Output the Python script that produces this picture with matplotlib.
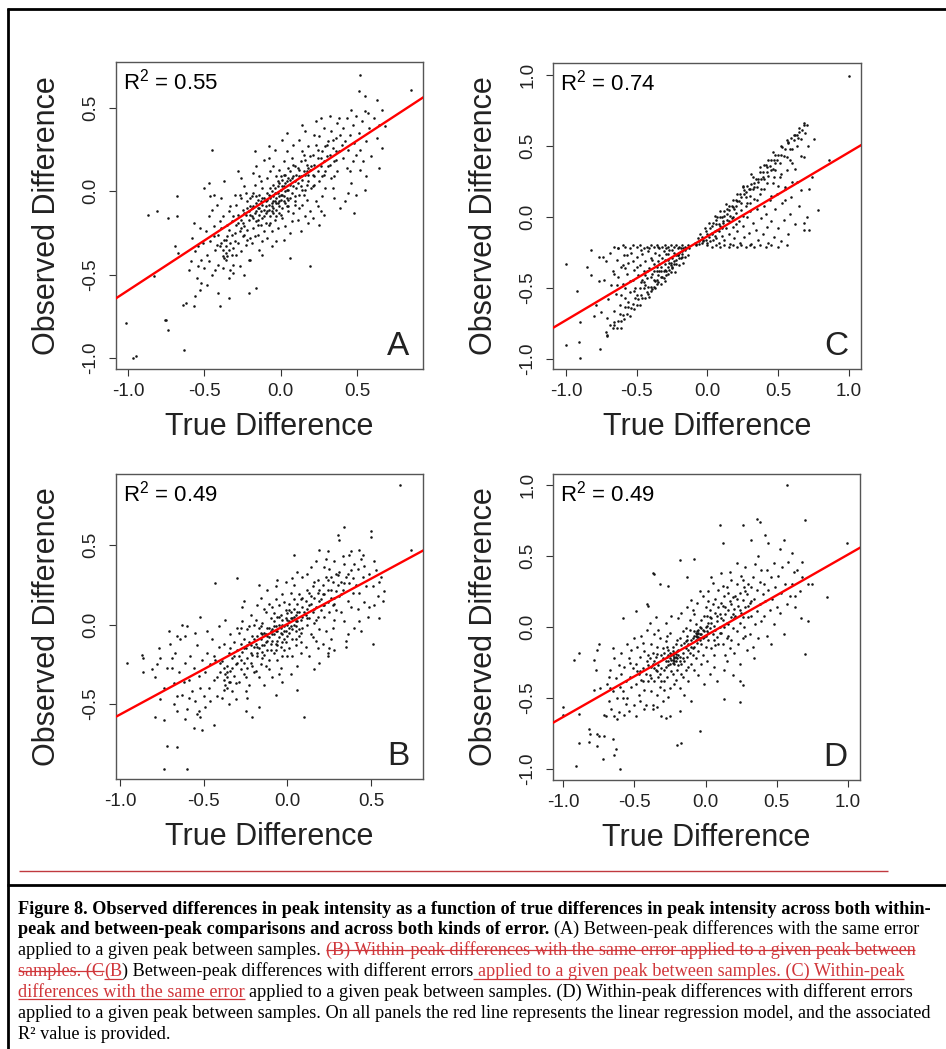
import numpy as np
import matplotlib
matplotlib.use("Agg")
import matplotlib.pyplot as plt
from matplotlib.lines import Line2D
from matplotlib.font_manager import FontProperties

plt.rcParams['font.family'] = ['Liberation Sans', 'DejaVu Sans']
plt.rcParams['mathtext.fontset'] = 'custom'
plt.rcParams['mathtext.rm'] = 'Liberation Sans'
plt.rcParams['mathtext.it'] = 'Liberation Sans:italic'
plt.rcParams['mathtext.bf'] = 'Liberation Sans:bold'

# ---------------- data (point coordinates in hundredths of a unit) ----------------
A_POINTS = [
    (52,70),(85,61),(51,60),(55,57),(63,55),(66,49),(57,47),(46,49),(64,40),(64,14),(55,1),(49,-2),(44,-1),(48,-13),
    (56,9),(52,13),(19,-45),(6,-40),(-45,25),(-68,-3),(-87,-14),(-81,-12),(-74,-16),(-68,-15),(-83,-51),(-69,-33),
    (-67,-37),(-101,-79),(-97,-100),(-95,-99),(-76,-77),(-75,-77),(-74,-83),(-63,-95),(-64,-68),(-62,-67),(-57,-69),
    (-40,-69),(-34,-64),(-21,-61),(-16,-58),(-56,-63),(-53,-59),(-60,-47),(-54,-45),(-41,-61),(-31,-49),(-20,-41),(-12,-38),
    (-58,-28),(-56,-36),(-55,-52),(-53,-22),(-52,-41),(-51,-31),(-59,-42),(-57,-19),(-54,-33),(-50,-46),(-52,-55),
    (-49,-24),(-48,-38),(-47,-15),(-46,-30),(-45,-50),(-44,-21),(-43,-35),(-42,-8),(-41,-44),(-48,-56),(-46,-3),
    (-44,-27),(-42,-32),(-40,-18),(-47,-42),(-45,-11),(-43,-47),(-41,-26),(-50,2),(-47,5),(-44,-2),
    (-39,-22),(-38,-35),(-37,-40),(-37,-29),(-36,-37),(-36,-33),(-36,-41),(-35,-27),(-35,-39),(-34,-12),(-33,-31),
    (-32,-18),(-31,-44),(-30,-25),(-39,-4),(-38,-15),(-34,-52),(-33,-9),(-31,-34),(-30,-2),(-38,-46),(-35,-20),
    (-32,-38),(-37,6),(-34,-23),(-31,-15),(-39,-31),(-33,-47),
    (-29,-20),(-29,-8),(-28,-31),(-28,-14),(-27,-24),(-27,-2),(-26,-17),(-26,-36),(-25,-11),(-25,-27),(-24,-21),
    (-24,3),(-23,-14),(-23,-32),(-22,-6),(-22,-23),(-21,-17),(-21,-41),(-20,-9),(-20,-28),(-29,-38),(-27,-45),
    (-26,8),(-25,-19),(-24,-13),(-23,-1),(-22,-29),(-21,-12),(-28,12),(-20,-4),(-24,-50),(-26,-4),
    (-19,-15),(-19,-3),(-18,-22),(-18,-9),(-17,-13),(-17,4),(-16,-18),(-16,-7),(-15,-26),(-15,-10),(-14,-2),
    (-14,-14),(-13,-20),(-13,6),(-12,-8),(-12,-16),(-11,-4),(-11,-11),(-19,-31),(-18,11),(-17,-27),(-16,15),
    (-15,-5),(-14,-35),(-13,-12),(-12,2),(-11,-24),(-10,-13),(-18,-1),(-16,-12),(-14,9),(-13,-6),(-12,-30),
    (-11,19),(-17,24),(-15,-17),(-10,-6),(-19,-10),
    (-9,-5),(-9,-12),(-8,-2),(-8,-8),(-7,-4),(-7,-15),(-6,0),(-6,-7),(-5,-3),(-5,-10),(-4,-6),(-4,2),(-3,-4),
    (-3,-11),(-2,-1),(-2,-7),(-1,-3),(-1,5),(0,-5),(0,1),(-9,8),(-8,-20),(-7,12),(-6,-24),(-5,15),(-4,-17),(-3,9),
    (-2,-22),(-1,13),(0,-14),(-9,-28),(-8,20),(-6,-33),(-5,4),(-4,25),(-3,-1),(-2,6),(-1,-9),(-7,2),(-3,-30),
    (-6,-12),(-8,27),(-10,-19),(-5,-6),
    (1,-2),(1,7),(2,-6),(2,3),(3,0),(3,10),(4,-4),(4,6),(5,1),(5,-9),(6,4),(6,12),(7,-1),(7,8),(8,3),(8,-13),
    (9,6),(9,15),(1,-16),(2,18),(3,-21),(4,24),(5,-12),(6,-25),(7,20),(8,28),(9,-8),(1,31),(3,-7),(5,14),(7,-18),
    (9,-3),(2,-29),(4,35),(6,-4),(8,16),(10,10),(0,9),
    (11,5),(11,14),(12,-2),(12,9),(13,3),(13,18),(14,7),(14,-8),(15,12),(15,22),(16,1),(16,10),(17,16),(17,-5),
    (18,6),(18,27),(19,13),(19,-12),(11,-17),(12,31),(13,-24),(14,24),(15,-2),(16,36),(17,4),(18,-19),(19,21),
    (12,-10),(14,40),(16,-15),(18,14),(20,2),
    (21,10),(21,22),(22,4),(22,16),(23,28),(23,-6),(24,12),(24,20),(25,6),(25,33),(26,15),(26,-12),(27,24),(27,9),
    (28,18),(28,38),(29,2),(29,27),(21,-16),(23,42),(25,-20),(27,-3),(29,12),(22,34),(24,-9),(26,44),(28,-14),(30,21),
    (31,15),(31,30),(32,22),(33,8),(33,36),(34,26),(35,18),(35,-4),(36,32),(37,12),(37,41),(38,24),(39,-10),(39,34),
    (32,45),(34,2),(36,19),(38,44),(40,28),(35,9),
    (41,20),(41,38),(42,30),(43,14),(43,44),(44,25),(45,34),(46,5),(47,40),(47,18),(48,29),(49,45),(42,-6),(45,12),(49,22),
    (51,35),(52,25),(53,42),(54,18),(55,48),(56,30),(58,38),(59,21),
    (61,44),(63,32),(66,26),(68,39),
    (-7,-3),(-6,-9),(-4,-1),(-3,-7),(-2,3),(-1,-6),(0,-2),(1,3),(2,-3),(3,5),(4,1),(5,-5),(-8,-11),(-9,-1),(-10,-9),
    (-5,-13),(-1,-13),(2,10),(4,-9),(6,7),(-12,-4),(-14,-10),(-16,-3),(-18,-16),(-20,-14),(-22,-10),(-24,-26),
    (-26,-22),(-28,-19),(-30,-30),(-32,-26),(-34,-35),(-36,-29),(-38,-39),(-40,-33),(8,9),(10,2),(12,13),(14,1),
    (16,19),(18,10),(20,15),(22,9),(24,25),(26,20),(28,10),(30,28),(32,16),(34,31),(36,24),(-15,-20),(-11,-15),
    (-7,-19),(-3,-15),(1,-10),(5,8),(9,-6),(13,9),(17,12),(21,3),
]

B_POINTS = [
    (67,88),(74,47),(50,59),(50,55),(34,61),(30,56),(31,53),(19,47),(24,46),(38,46),(43,47),(4,44),(57,15),(55,27),
    (55,4),(51,-12),(52,12),(49,11),(43,2),(35,-14),(28,-16),(24,-20),(19,-24),(10,-58),(6,-41),(-7,-44),(-17,-52),
    (-21,-58),(-25,-54),(-43,26),(-30,29),(-52,5),(-63,0),(-60,-1),(-71,-4),(-96,-24),(-87,-19),(-86,-21),(-86,-30),
    (-81,-28),(-78,-25),(-76,-21),(-70,-12),(-66,-7),(-61,-7),(-69,-21),(-68,-37),(-76,-47),(-79,-58),(-74,-60),
    (-72,-76),(-66,-77),(-74,-91),(-60,-91),(-66,-54),(-61,-59),(-60,-53),(-56,-65),(-51,-66),(-54,-56),(-52,-58),
    (-53,-54),(-49,-52),(-44,-63),(-59,-46),(-63,-44),
    (-79,-33),(-77,-15),(-74,-40),(-72,-27),
    (-69,-27),(-67,-18),(-66,-45),(-65,-30),(-64,-9),(-62,-36),(-61,-24),(-68,-50),
    (-59,-35),(-58,-20),(-57,-42),(-56,-27),(-55,-48),(-54,-13),(-53,-32),(-52,-40),(-51,-22),(-50,-45),(-55,-5),
    (-49,-30),(-48,-18),(-47,-40),(-46,-25),(-45,-9),(-44,-35),(-43,-22),(-42,-45),(-41,-14),(-40,-30),(-48,-4),
    (-46,-48),(-44,-20),(-42,-33),(-41,-1),
    (-39,-23),(-38,-35),(-38,-12),(-37,-31),(-37,-38),(-36,-33),(-36,-40),(-36,-26),(-35,-36),(-35,-18),(-34,-29),
    (-34,-6),(-33,-42),(-33,-21),(-32,-32),(-32,-11),(-31,-25),(-31,-47),(-30,-16),(-30,-2),(-39,-46),(-37,3),
    (-35,-50),(-33,-27),(-31,-37),(-38,-27),(-34,-15),
    (-29,-20),(-29,-5),(-28,-28),(-28,-12),(-27,-17),(-27,2),(-26,-24),(-26,-9),(-25,-33),(-25,-15),(-24,-3),
    (-24,-21),(-23,-11),(-23,-38),(-22,-18),(-22,6),(-21,-26),(-21,-7),(-20,-14),(-20,-30),(-29,-36),(-27,11),
    (-25,-42),(-23,-1),(-21,-19),(-28,-2),(-26,-31),(-24,-13),(-22,-24),(-20,0),(-26,15),(-24,-46),
    (-19,-12),(-19,3),(-18,-20),(-18,-7),(-17,-2),(-17,-15),(-16,-25),(-16,-9),(-15,1),(-15,-13),(-14,-19),(-14,-5),
    (-13,8),(-13,-11),(-12,-16),(-12,-2),(-11,-8),(-11,-22),(-10,4),(-10,-12),(-19,-29),(-18,12),(-17,-33),(-16,17),
    (-15,-21),(-14,-38),(-13,-6),(-12,22),(-11,-28),(-10,-4),(-18,-14),(-16,-1),(-14,10),(-12,-10),(-17,25),(-13,-26),
    (-15,-6),(-11,13),
    (-9,-3),(-9,-10),(-8,-6),(-8,2),(-7,-1),(-7,-12),(-6,-4),(-6,5),(-5,-8),(-5,0),(-4,-2),(-4,-14),(-3,3),(-3,-6),
    (-2,-1),(-2,-9),(-1,4),(-1,-4),(0,0),(0,-7),(-9,11),(-8,-18),(-7,16),(-6,-22),(-5,12),(-4,-27),(-3,19),(-2,-16),
    (-1,9),(0,-20),(-9,-33),(-7,24),(-5,-31),(-3,-11),(-1,27),(-8,7),(-6,-13),(-4,6),(-2,14),(0,7),(-6,28),(-3,-36),
    (1,2),(1,-5),(2,8),(2,-1),(3,4),(3,-9),(4,10),(4,0),(5,6),(5,-4),(6,13),(6,2),(7,-7),(7,8),(8,16),(8,3),(9,-2),
    (9,11),(1,-15),(2,20),(3,-20),(4,25),(5,-13),(6,-26),(7,19),(8,-11),(9,30),(2,-31),(4,16),(6,33),(8,-18),(1,13),
    (3,29),(5,-1),(7,-3),(9,5),
    (11,6),(11,15),(12,0),(12,10),(13,20),(13,4),(14,-6),(14,13),(15,24),(15,8),(16,1),(16,17),(17,11),(17,-10),
    (18,28),(18,5),(19,15),(19,-3),(11,-14),(12,32),(13,-20),(14,36),(15,-8),(16,27),(17,40),(18,-15),(19,22),(20,9),
    (12,22),(16,-28),
    (21,12),(21,25),(22,5),(22,19),(23,30),(23,-4),(24,14),(24,22),(25,35),(25,8),(26,17),(26,-9),(27,27),(27,12),
    (28,40),(28,3),(29,21),(29,32),(21,-12),(23,41),(25,-15),(27,-2),(29,9),(22,36),(24,-18),(26,30),(28,17),(30,25),
    (31,18),(31,33),(32,8),(32,27),(33,22),(34,38),(34,2),(35,30),(36,15),(36,-6),(37,26),(38,34),(38,11),(39,20),
    (40,-2),(33,43),(35,-10),(37,44),(39,29),(40,38),
    (41,25),(42,35),(42,10),(43,20),(44,41),(44,-4),(45,30),(46,14),(46,37),(47,24),(48,5),(49,32),(45,44),
    (51,24),(53,34),(54,18),(56,30),(58,21),(52,40),
    (-7,-4),(-6,-10),(-4,-5),(-3,0),(-2,-4),(-1,-11),(0,3),(1,-2),(2,4),(3,-3),(4,5),(5,2),(-8,-1),(-9,-6),(-10,-16),
    (-5,5),(6,8),(8,-5),(-12,-7),(-14,-13),(-16,-5),(-18,-18),(-20,-9),(-22,-13),(-24,-27),(-26,-15),(-28,-22),
    (-30,-24),(-32,-20),(-34,-36),(-36,-30),(-38,-41),(-40,-24),(10,8),(12,4),(14,18),(16,10),(18,20),(20,16),
    (22,12),(24,28),(26,22),(28,13),(30,31),(32,19),(34,26),(36,32),(-15,-17),(-11,-2),(-7,-16),(-3,-20),(1,9),
    (5,-9),(9,17),(13,12),(17,3),(21,19),
]

C_POINTS = [
    # flat row at the ceiling of the left wing
    (-66,-21),(-63,-22),(-60,-20),(-58,-21),(-55,-22),(-53,-20),(-50,-21),(-48,-20),(-45,-22),(-43,-21),(-40,-20),
    (-38,-21),(-36,-20),(-34,-22),(-32,-21),(-30,-20),(-28,-21),(-26,-20),(-24,-21),(-22,-20),(-20,-21),(-18,-20),
    (-16,-21),(-14,-20),(-47,-23),(-41,-22),(-35,-21),(-29,-22),(-25,-23),(-21,-22),(-19,-22),(-17,-22),
    # steep band of the left wing
    (-13,-22),(-14,-27),(-15,-22),(-16,-28),(-17,-32),(-18,-26),(-19,-29),(-20,-34),(-21,-27),(-22,-33),(-23,-39),
    (-24,-31),(-25,-35),(-26,-39),(-27,-32),(-28,-40),(-29,-38),(-30,-45),(-31,-38),(-32,-42),(-33,-47),(-34,-38),
    (-35,-46),(-36,-44),(-37,-50),(-38,-44),(-39,-51),(-40,-49),(-41,-56),(-42,-49),(-43,-53),(-44,-57),(-45,-50),
    (-46,-57),(-47,-55),(-48,-62),(-49,-58),(-50,-62),(-51,-57),(-52,-65),(-53,-61),(-54,-64),(-55,-70),(-56,-63),
    (-57,-68),(-58,-63),(-59,-72),(-60,-69),(-61,-73),(-62,-68),(-63,-73),(-64,-78),(-66,-74),(-67,-78),(-69,-76),
    (-71,-83),(-35,-41),(-36,-47),(-37,-45),(-38,-49),(-33,-42),(-31,-43),(-29,-41),(-27,-37),(-25,-36),(-40,-52),
    (-42,-54),(-30,-37),(-28,-35),(-26,-34),(-24,-33),(-22,-30),(-20,-29),(-18,-28),
    # inside the left wedge
    (-16,-23),(-18,-24),(-20,-25),(-22,-27),(-24,-25),(-25,-29),(-27,-23),(-28,-30),(-29,-26),(-30,-33),(-31,-24),
    (-32,-29),(-33,-35),(-34,-27),(-35,-31),(-36,-38),(-37,-25),(-38,-33),(-39,-40),(-40,-29),(-41,-36),(-42,-24),
    (-43,-43),(-44,-31),(-45,-38),(-46,-26),(-47,-46),(-48,-34),(-49,-41),(-50,-28),(-51,-50),(-52,-37),(-53,-44),
    (-54,-25),(-55,-53),(-56,-32),(-57,-40),(-58,-57),(-59,-27),(-60,-47),(-61,-35),(-62,-62),(-63,-42),(-64,-30),
    (-65,-54),(-66,-66),(-67,-38),(-68,-48),(-69,-25),(-70,-58),(-71,-71),(-72,-31),(-73,-44),(-56,-60),(-58,-36),
    (-50,-55),(-44,-48),(-39,-30),(-46,-44),(-53,-31),(-26,-32),(-21,-27),
    (-30,-30),(-33,-38),(-36,-35),(-40,-42),(-43,-38),(-45,-46),(-48,-50),(-52,-52),(-55,-45),(-58,-50),(-61,-55),
    (-64,-48),(-66,-40),(-60,-34),(-57,-27),(-50,-35),(-44,-41),(-38,-38),(-34,-33),(-28,-26),
    # left outliers
    (-100,-33),(-92,-52),(-90,-74),(-91,-88),(-90,-99),(-100,-90),(-82,-23),(-82,-41),(-77,-28),(-74,-28),(-77,-45),
    (-75,-67),(-76,-93),(-72,-81),(-71,-84),(-66,-76),(-61,-78),(-63,-22),(-79,-62),(-85,-35),(-80,-70),
    # steep band of the right wing
    (-9,-18),(-8,-20),(-7,-15),(-6,-17),(-5,-12),(-4,-14),(-3,-16),(-2,-8),(-1,-10),(0,-12),(1,-4),(2,-8),(3,-11),
    (4,-4),(5,1),(6,-5),(7,0),(8,-5),(9,4),(10,0),(11,-3),(12,4),(13,9),(14,2),(15,8),(16,1),(17,8),(18,12),(19,6),
    (20,12),(21,16),(22,11),(23,16),(24,10),(25,21),(26,16),(27,14),(28,22),(29,20),(30,15),(31,23),(32,28),(33,21),
    (34,27),(35,21),(36,27),(37,32),(38,27),(39,32),(40,27),(41,37),(42,32),(43,29),(44,36),(45,40),(46,34),(47,40),
    (48,33),(49,40),(50,44),(51,38),(52,44),(53,49),(54,43),(55,48),(56,42),(57,52),(58,48),(59,56),(60,48),(61,54),
    (62,58),(63,50),(64,56),(65,60),(66,55),(67,61),(68,65),(69,59),(70,65),
    (3,-6),(6,-2),(9,0),(12,1),(15,5),(18,7),(21,11),(24,14),(27,18),(30,20),(33,24),(36,25),(39,28),(42,35),(45,33),
    (48,38),(14,6),(20,8),(26,19),(32,20),
    # inside the right wedge
    (-8,-19),(-6,-19),(-4,-18),(-3,-17),(-1,-16),(0,-18),(1,-14),(2,-17),(3,-12),(4,-16),(5,-10),(6,-15),(7,-9),
    (8,-18),(9,-6),(10,-13),(11,-4),(12,-16),(13,-8),(14,-2),(15,-12),(16,-19),(17,-1),(18,-7),(19,-15),(20,3),
    (21,-10),(22,-3),(23,-18),(24,5),(25,-6),(26,-14),(27,8),(28,0),(29,-11),(30,10),(31,-19),(32,-4),(33,13),(34,-9),
    (35,6),(36,-16),(37,16),(38,-1),(39,-12),(40,20),(41,2),(42,-7),(43,-18),(44,12),(45,-3),(46,24),(47,-14),(48,6),
    (49,16),(50,-8),(51,28),(52,-17),(53,10),(54,-2),(55,20),(56,33),(57,-12),(58,2),(59,14),(60,38),(62,-5),(63,25),
    (65,8),(66,43),(68,-9),
    (5,-13),(10,-8),(15,-3),(20,-5),(25,1),(30,4),(35,12),(40,8),(45,15),(50,22),(55,12),(60,25),(38,20),(28,10),
    (18,0),(8,-10),(42,24),(52,30),(58,40),(47,28),
    # flat row at the floor of the right wing
    (0,-20),(3,-21),(6,-20),(9,-21),(12,-20),(15,-21),(18,-20),(21,-21),(24,-20),(27,-21),(30,-20),(33,-21),(37,-20),
    (41,-21),(45,-20),(50,-21),(56,-20),
    # right outliers and points above the band
    (100,99),(78,5),(72,-9),(70,0),(68,-4),(72,20),(75,55),(86,40),(62,34),(55,21),(68,42),(71,50),(65,63),(61,58),
    (74,28),(66,19),
    (43,40),(48,44),(52,50),(56,54),(63,58),(68,66),(57,53),(40,37),(37,35),(31,30),(25,22),(46,46),
]

D_POINTS = [
    (57,100),(10,72),(26,72),(36,76),(38,74),(42,65),(32,61),(44,59),(70,75),(55,61),(52,55),(99,59),(12,59),(-8,48),
    (-18,47),(-37,38),(-36,37),(-32,30),(-26,29),(-13,35),(-41,16),(-40,15),(-49,11),(-58,6),(85,21),(72,4),(70,-19),
    (63,22),(68,35),(72,30),(75,30),(61,52),(62,39),(68,46),(24,-38),(26,-41),(24,-53),(13,-51),(-4,-73),(-17,-82),
    (-20,-83),(-10,-52),(-18,-59),(-28,-64),(-31,-63),(-25,-63),(-37,-58),(-34,-56),(-89,-18),(-92,-23),(-100,-56),
    (-100,-62),(-89,-61),(-89,-82),(-91,-98),(-82,-72),(-81,-75),(-76,-75),(-75,-77),(-71,-77),(-82,-81),(-76,-84),
    (-72,-93),(-60,-100),(-65,-79),(-64,-90),(-63,-86),(-78,-44),(-74,-43),(-76,-16),(-75,-12),(-77,-30),(-78,-23),
    (-67,-43),(-68,-35),(-71,-62),(-70,-63),(-64,-63),(-62,-65),(-58,-50),(-56,-54),(-54,-59),(-49,-63),(-43,-58),
    (-69,-40),(-68,-52),(-67,-30),(-66,-58),(-65,-45),(-64,-22),(-63,-36),(-62,-50),(-61,-27),(-60,-42),(-65,-15),(-61,-60),
    (-59,-33),(-59,-18),(-58,-45),(-57,-28),(-56,-38),(-55,-12),(-55,-50),(-54,-22),(-53,-35),(-52,-42),(-52,-16),
    (-51,-29),(-50,-55),(-50,-8),(-57,-62),(-53,-25),
    (-49,-26),(-49,-40),(-48,-14),(-47,-33),(-47,-48),(-46,-21),(-45,-37),(-45,-6),(-44,-29),(-43,-44),(-43,-17),
    (-42,-33),(-42,-55),(-41,-24),(-41,-2),(-40,-38),(-48,-31),(-46,-52),(-44,-11),(-40,-20),
    (-39,-22),(-39,-34),(-38,-12),(-38,-45),(-37,-26),(-37,-18),(-36,-38),(-36,-5),(-35,-30),(-35,-21),(-34,-48),
    (-34,-14),(-33,-27),(-33,-35),(-32,-8),(-32,-42),(-31,-20),(-31,-29),(-30,-52),(-30,-15),(-39,3),(-37,-55),
    (-35,7),(-33,-2),(-31,-38),(-36,-24),(-34,-31),(-38,-28),
    (-29,-18),(-29,-30),(-28,-24),(-28,-10),(-27,-21),(-27,-35),(-26,-16),(-26,-27),(-25,-22),(-25,-4),(-24,-20),
    (-24,-31),(-23,-23),(-23,-14),(-22,-21),(-22,-26),(-21,-19),(-21,-37),(-20,-22),(-20,-9),(-24,-23),(-23,-20),
    (-22,-18),(-21,-24),(-25,-43),(-28,3),(-26,-49),(-24,8),(-22,-40),(-20,-30),(-29,-44),(-27,-6),(-23,-33),
    (-21,-12),(-26,-20),(-25,-26),(-23,-17),(-22,-24),
    (-19,-16),(-19,-27),(-18,-8),(-18,-21),(-17,-13),(-17,-33),(-16,-18),(-16,-3),(-15,-24),(-15,-11),(-14,-30),
    (-14,-15),(-13,-6),(-13,-21),(-12,-12),(-12,-38),(-11,-2),(-11,-18),(-10,-9),(-10,-26),(-19,6),(-18,-43),
    (-17,10),(-15,-48),(-13,14),(-12,-28),(-11,5),(-16,-35),(-14,-1),(-10,19),
    (-9,-8),(-9,-20),(-8,-3),(-8,-14),(-7,-6),(-7,2),(-6,-5),(-6,-11),(-5,-4),(-5,-17),(-4,0),(-4,-8),(-3,-12),
    (-3,5),(-2,-2),(-2,-20),(-1,-7),(-1,8),(0,-14),(0,0),(-6,-3),(-5,-7),(-7,-9),(-4,-5),(-9,12),(-8,-30),(-6,17),
    (-5,-34),(-3,-26),(-2,22),(-1,-40),(0,14),(-7,-22),(-4,25),(-8,9),(-3,-1),
    (1,-3),(1,8),(2,-9),(2,3),(3,12),(3,-1),(4,-15),(4,6),(5,16),(5,-5),(6,1),(6,-20),(7,10),(7,20),(8,-7),(8,4),
    (9,14),(9,-12),(10,0),(1,-24),(2,25),(3,-33),(5,31),(6,-28),(8,-38),(9,26),(4,35),(7,-2),(10,9),(2,18),
    (11,6),(11,-4),(12,15),(12,-12),(13,0),(13,22),(14,9),(14,-20),(15,3),(15,28),(16,-6),(16,12),(17,18),(17,-15),
    (18,7),(18,33),(19,-1),(19,21),(20,13),(11,38),(13,-30),(15,-24),(17,39),(19,-34),(12,29),(16,24),(18,-9),(20,-18),
    (21,8),(21,22),(22,-3),(22,30),(23,15),(23,-12),(24,24),(24,3),(25,36),(25,10),(26,-8),(26,19),(27,28),(27,0),
    (28,14),(28,42),(29,-16),(29,23),(30,7),(22,45),(24,-26),(26,33),(28,-6),(30,30),
    (31,17),(31,-5),(32,28),(32,8),(33,35),(33,-14),(34,20),(35,2),(35,44),(36,26),(36,11),(37,-8),(38,32),(38,16),
    (39,4),(39,40),(40,23),(34,-22),(37,50),
    (41,30),(41,8),(42,18),(43,40),(43,-6),(44,26),(45,12),(46,35),(46,-12),(47,20),(48,45),(48,2),(49,28),(50,14),
    (51,36),(52,10),(53,24),(54,42),(55,-5),(56,30),(57,16),(58,46),(59,22),
    (61,30),(63,14),(64,40),(66,25),(67,6),
    (-24,-19),(-23,-25),(-22,-22),(-21,-21),(-20,-17),(-25,-18),(-26,-24),(-19,-20),(-18,-24),(-7,-4),(-6,-7),(-5,-2),
    (-4,-9),(-3,-5),(-2,-8),(-8,-6),(-1,-3),(0,-6),(1,1),(-12,-16),(-14,-10),(-16,-22),(-10,-14),(-28,-28),(-30,-22),
    (-32,-33),(-34,-19),(-36,-29),(-38,-36),(-40,-27),(-44,-38),(-46,-31),(2,-4),(4,3),(6,-9),(8,8),(10,-4),(12,5),
    (14,14),(16,2),(18,16),(20,6),(22,20),(24,12),(26,7),(28,25),(30,15),(32,18),(-29,-38),(-27,-14),(-17,-26),
    (-13,-9),(-9,-15),(3,7),(7,-13),(11,17),(15,-8),(19,9),
]

PANEL_LETTERS = ["A", "C", "B", "D"]
PANEL_POINTS = [A_POINTS, C_POINTS, B_POINTS, D_POINTS]
R2_VALUES = ["0.55", "0.74", "0.49", "0.49"]
REG_SLOPE = [0.600, 0.591, 0.569, 0.572]
REG_INTERCEPT = [0.005, -0.135, 0.004, -0.062]
X_TICKS = [[-1.0, -0.5, 0.0, 0.5], [-1.0, -0.5, 0.0, 0.5, 1.0],
           [-1.0, -0.5, 0.0, 0.5], [-1.0, -0.5, 0.0, 0.5, 1.0]]
Y_TICKS = [[-1.0, -0.5, 0.0, 0.5], [-1.0, -0.5, 0.0, 0.5, 1.0],
           [-0.5, 0.0, 0.5], [-1.0, -0.5, 0.0, 0.5, 1.0]]
X_LIMS = [(-1.078, 0.930), (-1.092, 1.085), (-1.024, 0.810), (-1.070, 1.084)]
Y_LIMS = [(-1.066, 0.776), (-1.070, 1.085), (-0.970, 0.946), (-1.077, 1.077)]
X_LABEL = "True Difference"
Y_LABEL = "Observed Difference"

CAPTION_LINES = [
    [("Figure 8. Observed differences in peak intensity as a function of true differences in peak intensity across both within-", "bold")],
    [("peak and between-peak comparisons and across both kinds of error.", "bold"),
     (" (A) Between-peak differences with the same error", "normal")],
    [("applied to a given peak between samples. ", "normal"),
     ("(B) Within-peak differences with the same error applied to a given peak between", "strike")],
    [("samples. (C", "strike"), ("(B", "under"),
     (") Between-peak differences with different errors", "normal"),
     (" applied to a given peak between samples. (C) Within-peak", "under")],
    [("differences with the same error", "under"),
     (" applied to a given peak between samples. (D) Within-peak differences with different errors", "normal")],
    [("applied to a given peak between samples. On all panels the red line represents the linear regression model, and the associated", "normal")],
    [("R\u00b2 value is provided.", "normal")],
]

# ---------------- layout ----------------
W, H = 946, 1049
fig = plt.figure(figsize=(W / 100, H / 100), dpi=100)

def px_rect(left, top, right, bottom):
    return [left / W, 1 - bottom / H, (right - left) / W, (bottom - top) / H]

AX_BOXES = [(116, 62, 423, 369), (553, 63, 861, 369), (116, 474, 423, 779), (553, 474, 860, 780)]
TEXT_COLOR = "#222222"

for i in range(4):
    l, t, r, b = AX_BOXES[i]
    ax = fig.add_axes(px_rect(l, t, r, b))
    pts = np.array(PANEL_POINTS[i], dtype=float) / 100.0
    ax.scatter(pts[:, 0], pts[:, 1], s=3.4, c="#151515", linewidths=0, zorder=2)
    ax.axline((0.0, REG_INTERCEPT[i]), slope=REG_SLOPE[i], color="#ff0000", lw=1.7, zorder=3)
    ax.set_xlim(*X_LIMS[i])
    ax.set_ylim(*Y_LIMS[i])
    ax.set_xticks(X_TICKS[i])
    ax.set_yticks(Y_TICKS[i])
    ax.set_xticklabels(["%.1f" % v for v in X_TICKS[i]])
    ax.set_yticklabels(["%.1f" % v for v in Y_TICKS[i]])
    ax.tick_params(axis="both", direction="out", length=5, width=0.8, color="#333333",
                   labelsize=13.5, labelcolor=TEXT_COLOR)
    ax.tick_params(axis="x", pad=5)
    ax.tick_params(axis="y", pad=7)
    for lab in ax.get_yticklabels():
        lab.set_rotation(90)
        lab.set_va("center")
    for sp in ax.spines.values():
        sp.set_color("#555555")
        sp.set_linewidth(1.0)
    ax.text(0.022, 0.911, r"R$^{2}$ = " + R2_VALUES[i], transform=ax.transAxes,
            fontsize=16, color="black", ha="left", va="baseline")
    ax.text(0.92, 0.047, PANEL_LETTERS[i], transform=ax.transAxes,
            fontsize=24, color=TEXT_COLOR, ha="center", va="baseline")
    cx = (l + r) / 2
    fig.text(cx / W, 1 - (b + 58) / H, X_LABEL, fontsize=22, color=TEXT_COLOR, ha="center", va="center")
    fig.text((l - 69) / W, 1 - ((t + b) / 2) / H, Y_LABEL, fontsize=22, color=TEXT_COLOR,
             rotation=90, ha="center", va="center")

# ---------------- frame lines ----------------
def hline(y, x0, x1, lw, color):
    fig.add_artist(Line2D([x0 / W, x1 / W], [1 - y / H, 1 - y / H], transform=fig.transFigure,
                          color=color, lw=lw, solid_capstyle="butt"))

def vline(x, y0, y1, lw, color):
    fig.add_artist(Line2D([x / W, x / W], [1 - y0 / H, 1 - y1 / H], transform=fig.transFigure,
                          color=color, lw=lw, solid_capstyle="butt"))

hline(9, 7, W, 2.0, "black")
vline(8, 8, H, 2.0, "black")
hline(885, 7, W, 2.0, "black")
hline(871, 19, 888, 1.0, "#c0393f")

# ---------------- caption ----------------
RED = "#d0363a"
fig.canvas.draw()
renderer = fig.canvas.get_renderer()

def text_w(s, fp):
    w, h, d = renderer.get_text_width_height_descent(s, fp, ismath=False)
    return w

def adv(s, fp):
    if not s:
        return 0.0
    return text_w("X" + s + "X", fp) - text_w("XX", fp)

base_size = 12.0
fp_test = FontProperties(family="Liberation Serif", weight="bold", size=base_size)
w_line1 = adv(CAPTION_LINES[0][0][0], fp_test)
cap_size = base_size * 904.0 / w_line1
fp_bold = FontProperties(family="Liberation Serif", weight="bold", size=cap_size)
fp_norm = FontProperties(family="Liberation Serif", weight="normal", size=cap_size)
size_px = cap_size * 100 / 72.0

x_start = 18.0
base0 = 913.5
line_h = 20.9
for li, runs in enumerate(CAPTION_LINES):
    y = base0 + li * line_h
    x = x_start
    for s, style in runs:
        fp = fp_bold if style == "bold" else fp_norm
        color = RED if style in ("strike", "under") else "black"
        a = adv(s, fp)
        lead = s[:len(s) - len(s.lstrip())]
        core = s.strip()
        xc = x + adv(lead, fp)
        fig.text(xc / W, 1 - y / H, core, fontproperties=fp, color=color, ha="left", va="baseline")
        wc = adv(core, fp)
        if style == "strike":
            hline(y - 0.27 * size_px, xc, xc + wc, 0.9, color)
        elif style == "under":
            hline(y + 0.13 * size_px, x, x + a, 0.9, color)
        x += a

fig.savefig("out.png", dpi=100)
